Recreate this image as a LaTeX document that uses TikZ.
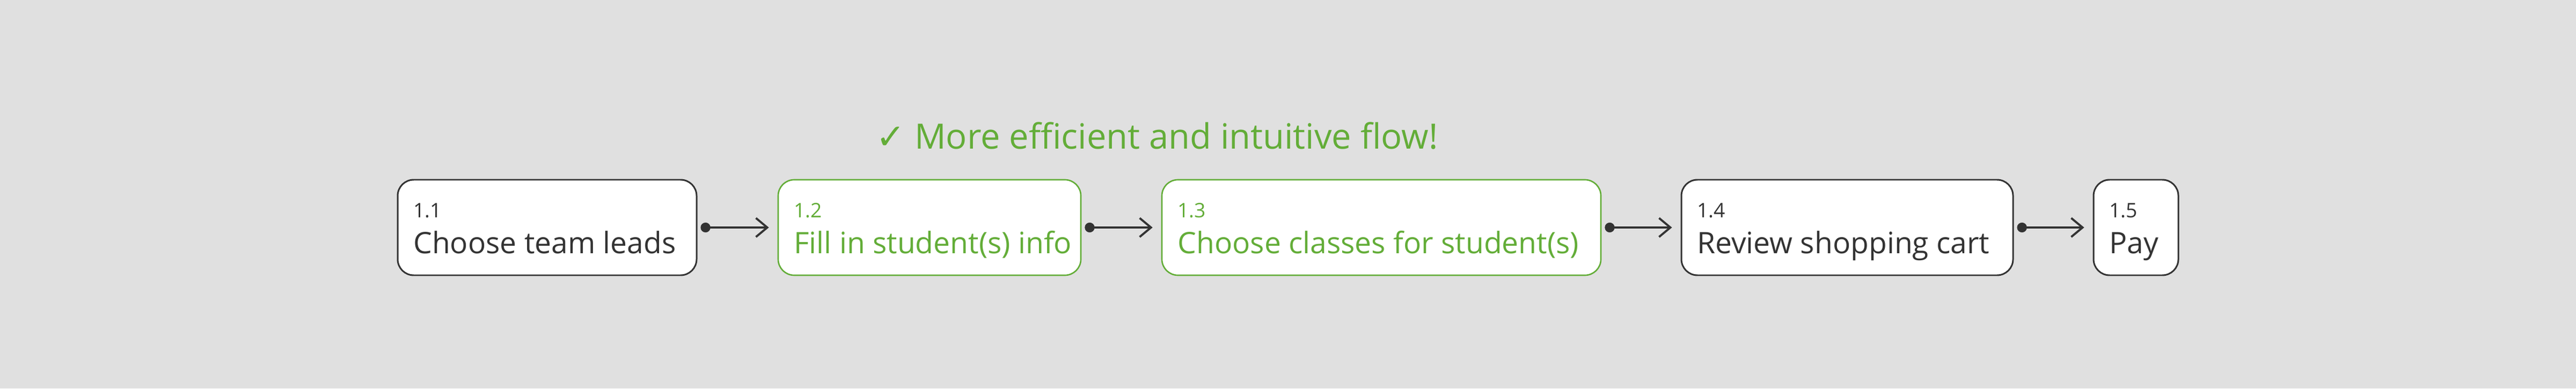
\documentclass[tikz,border=0pt]{standalone}
\usepackage{fontspec}
\setmainfont{Open Sans}
\newfontfamily\tickfont{DejaVu Sans}
\usetikzlibrary{arrows.meta,positioning}
\definecolor{ink}{HTML}{333333}
\definecolor{leaf}{RGB}{99,173,56}
\definecolor{paper}{HTML}{E0E0E0}

\begin{document}
\begin{tikzpicture}[stage/.style={draw=ink, line width=0.85pt, rounded corners=8.5pt, fill=white, minimum height=1.78cm, inner sep=0},
new/.style={draw=leaf, line width=0.75pt},
num/.style={anchor=base west, inner sep=0, text=ink, font=\fontsize{10.6}{12}\selectfont},
title/.style={anchor=base west, inner sep=0, text=ink, font=\fontsize{15.7}{18}\selectfont},
link/.style={draw=ink, line width=1.1pt, {Circle[length=5.2pt]}-{Straight Barb[length=6pt,width=10pt]}}]
	\fill[paper] (0,0) rectangle (48,7.24);
	\useasboundingbox (0,0) rectangle (48,7.24);

	\node[stage, minimum width=5.57cm] at (10.195,3) (s1) {};
	\node[stage, new, minimum width=5.64cm] at (17.32,3) (s2) {};
	\node[stage, new, minimum width=8.18cm] at (25.74,3) (s3) {};
	\node[stage, minimum width=6.18cm] at (34.42,3) (s4) {};
	\node[stage, minimum width=1.58cm] at (39.80,3) (s5) {};

	\node[num] at ([xshift=0.3cm,yshift=0.19cm]s1.west) (n1) {1.1};
	\node[title] at ([xshift=0.3cm,yshift=-0.48cm]s1.west) (t1) {Choose team leads};
	\node[num, text=leaf] at ([xshift=0.3cm,yshift=0.19cm]s2.west) (n2) {1.2};
	\node[title, text=leaf] at ([xshift=0.3cm,yshift=-0.48cm]s2.west) (t2) {Fill in student(s) info};
	\node[num, text=leaf] at ([xshift=0.3cm,yshift=0.19cm]s3.west) (n3) {1.3};
	\node[title, text=leaf] at ([xshift=0.3cm,yshift=-0.48cm]s3.west) (t3) {Choose classes for student(s)};
	\node[num] at ([xshift=0.3cm,yshift=0.19cm]s4.west) (n4) {1.4};
	\node[title] at ([xshift=0.3cm,yshift=-0.48cm]s4.west) (t4) {Review shopping cart};
	\node[num] at ([xshift=0.3cm,yshift=0.19cm]s5.west) (n5) {1.5};
	\node[title] at ([xshift=0.3cm,yshift=-0.48cm]s5.west) (t5) {Pay};

	\draw[link] ([xshift=0.06cm]s1.east) -- ([xshift=-0.16cm]s2.west);
	\draw[link] ([xshift=0.06cm]s2.east) -- ([xshift=-0.16cm]s3.west);
	\draw[link] ([xshift=0.06cm]s3.east) -- ([xshift=-0.16cm]s4.west);
	\draw[link] ([xshift=0.06cm]s4.east) -- ([xshift=-0.16cm]s5.west);

	\node[anchor=base west, inner sep=0, text=leaf, font=\fontsize{18.5}{22}\selectfont] at (16.32,4.47) (note) {{\tickfont ✓} More efficient and intuitive flow!};
\end{tikzpicture}
\end{document}
